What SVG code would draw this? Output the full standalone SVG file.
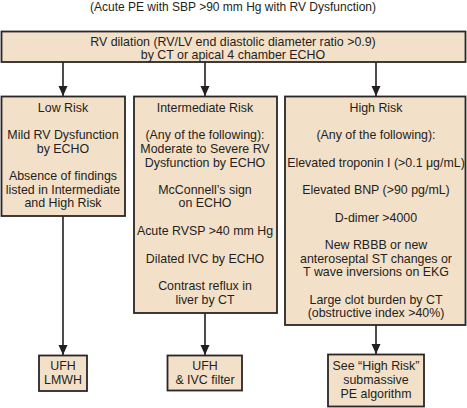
<svg xmlns="http://www.w3.org/2000/svg" width="467" height="408" viewBox="0 0 467 408">
<defs>
<style>
.box{fill:#f3e0c8;stroke:#2a2626;stroke-width:1.8}
text{font-family:"Liberation Sans",Arial,sans-serif;font-size:12.4px;fill:#231f20;text-anchor:middle}
.ttl{font-size:12px}
.ln{stroke:#231f20;stroke-width:1.6;fill:none}
</style>
<marker id="ah" viewBox="0 0 10 11" refX="10" refY="5" markerWidth="10" markerHeight="11" markerUnits="userSpaceOnUse" orient="auto">
<path d="M0,0.5 L10,5 L0,9.5 Z" fill="#231f20"/>
</marker>
</defs>
<rect width="467" height="408" fill="#ffffff"/>
<text class="ttl" x="233" y="11">(Acute PE with SBP &gt;90 mm Hg with RV Dysfunction)</text>
<g id="connectors">
<line class="ln" x1="63" y1="62" x2="63" y2="96" marker-end="url(#ah)"/>
<line class="ln" x1="205" y1="62" x2="205" y2="96" marker-end="url(#ah)"/>
<line class="ln" x1="376" y1="62" x2="376" y2="96" marker-end="url(#ah)"/>
<line class="ln" x1="63" y1="216" x2="63" y2="355" marker-end="url(#ah)"/>
<line class="ln" x1="205" y1="313" x2="205" y2="355" marker-end="url(#ah)"/>
<line class="ln" x1="376" y1="325" x2="376" y2="354" marker-end="url(#ah)"/>
</g>
<g id="top">
<rect class="box" x="1.5" y="31.5" width="464" height="30.5"/>
<text x="233" y="46">RV dilation (RV/LV end diastolic diameter ratio &gt;0.9)</text>
<text x="233" y="59">by CT or apical 4 chamber ECHO</text>
</g>
<g id="low">
<rect class="box" x="1.5" y="96.5" width="123.5" height="119.5"/>
<text x="63" y="112">Low Risk</text>
<text x="63" y="139">Mild RV Dysfunction</text>
<text x="63" y="153">by ECHO</text>
<text x="63" y="180">Absence of findings</text>
<text x="63" y="194">listed in Intermediate</text>
<text x="63" y="207">and High Risk</text>
</g>
<g id="intermediate">
<rect class="box" x="134" y="96.5" width="143" height="216.5"/>
<text x="205" y="112">Intermediate Risk</text>
<text x="205" y="139">(Any of the following):</text>
<text x="205" y="153">Moderate to Severe RV</text>
<text x="205" y="167">Dysfunction by ECHO</text>
<text x="205" y="194">McConnell’s sign</text>
<text x="205" y="207">on ECHO</text>
<text x="205" y="235">Acute RVSP &gt;40 mm Hg</text>
<text x="205" y="263">Dilated IVC by ECHO</text>
<text x="205" y="290">Contrast reflux in</text>
<text x="205" y="304">liver by CT</text>
</g>
<g id="high">
<rect class="box" x="285" y="96.5" width="180.5" height="228.5"/>
<text x="376" y="112">High Risk</text>
<text x="376" y="139">(Any of the following):</text>
<text x="376" y="167">Elevated troponin I (&gt;0.1 μg/mL)</text>
<text x="376" y="194">Elevated BNP (&gt;90 pg/mL)</text>
<text x="376" y="222">D-dimer &gt;4000</text>
<text x="376" y="249">New RBBB or new</text>
<text x="376" y="263">anteroseptal ST changes or</text>
<text x="376" y="276">T wave inversions on EKG</text>
<text x="376" y="304">Large clot burden by CT</text>
<text x="376" y="317">(obstructive index &gt;40%)</text>
</g>
<g id="ufh-lmwh">
<rect class="box" x="39" y="355.5" width="48" height="35.5"/>
<text x="63" y="370">UFH</text>
<text x="63" y="384">LMWH</text>
</g>
<g id="ufh-ivc">
<rect class="box" x="167.5" y="355.5" width="74.5" height="35"/>
<text x="205" y="370">UFH</text>
<text x="205" y="384">&amp; IVC filter</text>
</g>
<g id="see-high">
<rect class="box" x="328" y="354.5" width="96" height="52"/>
<text x="376" y="370">See “High Risk”</text>
<text x="376" y="384">submassive</text>
<text x="376" y="398">PE algorithm</text>
</g>
</svg>
